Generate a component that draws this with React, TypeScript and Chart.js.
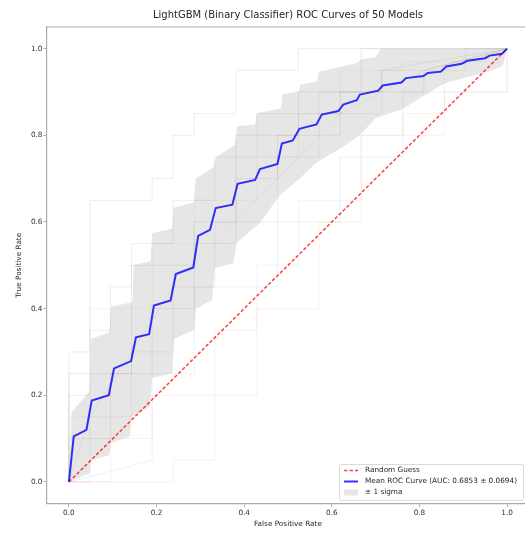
import React, { useEffect, useRef } from 'react';
import { Chart, registerables } from 'chart.js';

Chart.register(...registerables);

const titleText = 'LightGBM (Binary Classifier) ROC Curves of 50 Models';
const xAxisLabel = 'False Positive Rate';
const yAxisLabel = 'True Positive Rate';
const tickValues = [0, 0.2, 0.4, 0.6, 0.8, 1.0];
const legendLabels = ['Random Guess', 'Mean ROC Curve (AUC: 0.6853 ± 0.0694)', '± 1 sigma'];

const diagFpr = [0, 1];
const diagTpr = [0, 1];

const meanFpr = [0, 0.011, 0.040, 0.052, 0.091, 0.103, 0.142, 0.153, 0.183, 0.194, 0.232, 0.244, 0.284, 0.295, 0.322, 0.335, 0.373, 0.385, 0.425, 0.436, 0.476, 0.486, 0.511, 0.526, 0.565, 0.577, 0.615, 0.626, 0.657, 0.664, 0.706, 0.716, 0.759, 0.769, 0.809, 0.819, 0.849, 0.861, 0.896, 0.909, 0.950, 0.960, 0.988, 1.0];
const meanTpr = [0, 0.105, 0.12, 0.188, 0.20, 0.262, 0.279, 0.334, 0.341, 0.407, 0.419, 0.48, 0.495, 0.568, 0.582, 0.632, 0.640, 0.688, 0.697, 0.722, 0.734, 0.781, 0.788, 0.815, 0.825, 0.848, 0.856, 0.871, 0.881, 0.894, 0.903, 0.915, 0.922, 0.932, 0.937, 0.944, 0.947, 0.959, 0.965, 0.972, 0.978, 0.984, 0.988, 1.0];

const upperFpr = [0, 0.006, 0.047, 0.05, 0.092, 0.096, 0.145, 0.148, 0.187, 0.19, 0.236, 0.239, 0.285, 0.289, 0.33, 0.337, 0.379, 0.384, 0.425, 0.429, 0.484, 0.487, 0.525, 0.528, 0.567, 0.57, 0.657, 0.665, 0.70, 0.712, 1.0];
const upperTpr = [0, 0.16, 0.21, 0.33, 0.345, 0.405, 0.415, 0.50, 0.51, 0.574, 0.585, 0.632, 0.645, 0.70, 0.727, 0.751, 0.778, 0.821, 0.825, 0.851, 0.862, 0.894, 0.902, 0.917, 0.925, 0.947, 0.967, 0.975, 0.98, 1.0, 1.0];

const lowerFpr = [0, 0.047, 0.05, 0.092, 0.096, 0.139, 0.143, 0.185, 0.19, 0.236, 0.24, 0.286, 0.29, 0.327, 0.333, 0.375, 0.383, 0.436, 0.482, 0.523, 0.565, 0.62, 0.664, 0.70, 0.76, 0.808, 0.858, 0.954, 0.99, 1.0];
const lowerTpr = [0, 0.02, 0.05, 0.062, 0.09, 0.105, 0.15, 0.174, 0.24, 0.251, 0.33, 0.351, 0.40, 0.42, 0.494, 0.505, 0.552, 0.598, 0.663, 0.697, 0.737, 0.77, 0.80, 0.84, 0.86, 0.89, 0.92, 0.947, 0.96, 1.0];

// A sample of the faint individual model curves
const modelFpr: number[][] = [
  [0, 0, 0.048, 0.048, 0.19, 0.19, 0.238, 0.238, 0.286, 0.286, 0.381, 0.381, 0.524, 0.524, 1],
  [0, 0.238, 0.238, 0.333, 0.333, 0.429, 0.429, 0.571, 0.571, 0.667, 0.667, 0.762, 0.762, 0.857, 0.857, 1, 1],
  [0, 0, 0.048, 0.048, 0.095, 0.095, 0.143, 0.143, 0.238, 0.238, 0.333, 0.333, 0.429, 0.429, 0.571, 0.571, 0.714, 0.714, 1],
  [0, 0, 0.095, 0.095, 0.19, 0.19, 0.286, 0.286, 0.381, 0.381, 0.476, 0.476, 0.619, 0.619, 0.81, 0.81, 1],
  [0, 0.048, 0.048, 0.143, 0.143, 0.238, 0.238, 0.333, 0.333, 0.476, 0.476, 0.571, 0.571, 0.714, 0.714, 0.905, 0.905, 1],
  [0, 0, 0.143, 0.143, 0.286, 0.286, 0.381, 0.381, 0.524, 0.524, 0.667, 0.667, 1],
  [0, 0.095, 0.095, 0.19, 0.19, 0.333, 0.333, 0.429, 0.429, 0.524, 0.524, 0.667, 0.667, 0.857, 0.857, 1],
  [0, 0.048, 0.143, 0.238, 0.333, 0.429, 0.524, 0.619, 0.714, 0.81, 1],
  [0, 0, 0.048, 0.048, 0.19, 0.19, 0.286, 0.286, 0.429, 0.429, 0.524, 0.524, 0.619, 0.619, 0.762, 0.762, 0.952, 0.952, 1],
  [0, 0.19, 0.19, 0.286, 0.286, 0.476, 0.476, 0.619, 0.619, 0.762, 0.762, 1, 1],
];
const modelTpr: number[][] = [
  [0, 0.3, 0.3, 0.65, 0.65, 0.7, 0.7, 0.8, 0.8, 0.85, 0.85, 0.95, 0.95, 1, 1],
  [0, 0, 0.05, 0.05, 0.2, 0.2, 0.4, 0.4, 0.6, 0.6, 0.8, 0.8, 0.85, 0.85, 0.9, 0.9, 1],
  [0, 0.2, 0.2, 0.35, 0.35, 0.45, 0.45, 0.55, 0.55, 0.65, 0.65, 0.75, 0.75, 0.85, 0.85, 0.9, 0.9, 0.95, 1],
  [0, 0.1, 0.1, 0.25, 0.25, 0.4, 0.4, 0.55, 0.55, 0.7, 0.7, 0.8, 0.8, 0.9, 0.9, 0.95, 1],
  [0, 0, 0.15, 0.15, 0.3, 0.3, 0.45, 0.45, 0.6, 0.6, 0.75, 0.75, 0.85, 0.85, 0.95, 0.95, 1, 1],
  [0, 0.25, 0.25, 0.5, 0.5, 0.6, 0.6, 0.8, 0.8, 0.9, 0.9, 1, 1],
  [0, 0, 0.1, 0.1, 0.2, 0.2, 0.35, 0.35, 0.5, 0.5, 0.65, 0.65, 0.8, 0.8, 0.95, 1],
  [0, 0.15, 0.3, 0.45, 0.55, 0.65, 0.75, 0.85, 0.9, 0.95, 1],
  [0, 0.15, 0.15, 0.4, 0.4, 0.55, 0.55, 0.65, 0.65, 0.75, 0.75, 0.85, 0.85, 0.95, 0.95, 0.97, 0.97, 1, 1],
  [0, 0.05, 0.25, 0.25, 0.45, 0.45, 0.6, 0.6, 0.75, 0.75, 0.9, 0.9, 1],
];
const modelColors = ['#1f77b4', '#ff7f0e', '#2ca02c', '#d62728', '#9467bd', '#8c564b', '#e377c2', '#7f7f7f', '#bcbd22', '#17becf'];

const W = 545;
const H = 534;
const AREA = { left: 47, top: 27, right: 529, bottom: 503.6 };
const FONT = "'DejaVu Sans', sans-serif";

const RED = 'rgba(255,0,0,0.75)';
const BLUE = 'rgba(0,0,255,0.8)';
const BAND = 'rgba(128,128,128,0.2)';

function hexA(hex: string, a: number) {
  const n = parseInt(hex.slice(1), 16);
  return `rgba(${(n >> 16) & 255},${(n >> 8) & 255},${n & 255},${a})`;
}

const decorPlugin = {
  id: 'decor',
  afterDraw(chart: any) {
    const ctx = chart.ctx as CanvasRenderingContext2D;
    const ca = chart.chartArea;
    ctx.save();
    ctx.strokeStyle = '#aaaaaa';
    ctx.lineWidth = 1.2;
    ctx.beginPath();
    ctx.moveTo(ca.left, ca.top);
    ctx.lineTo(ca.right, ca.top);
    ctx.lineTo(ca.right, ca.bottom);
    ctx.stroke();

    ctx.fillStyle = '#262626';
    ctx.font = `10px ${FONT}`;
    ctx.textAlign = 'center';
    ctx.textBaseline = 'middle';
    ctx.fillText(titleText, (ca.left + ca.right) / 2, 15);

    ctx.font = `7.3px ${FONT}`;
    ctx.fillText(xAxisLabel, (ca.left + ca.right) / 2, 524);
    ctx.save();
    ctx.translate(19, (ca.top + ca.bottom) / 2);
    ctx.rotate(-Math.PI / 2);
    ctx.fillText(yAxisLabel, 0, 0);
    ctx.restore();

    const bx = 339.5, by = 464.5, bw = 184, bh = 36;
    ctx.beginPath();
    ctx.roundRect(bx, by, bw, bh, 2);
    ctx.fillStyle = 'rgba(255,255,255,0.85)';
    ctx.fill();
    ctx.strokeStyle = '#d0d0d0';
    ctx.lineWidth = 0.8;
    ctx.stroke();

    const hx0 = 344, hx1 = 358, tx = 365;
    const rows = [470.5, 481.5, 492.5];
    ctx.strokeStyle = RED;
    ctx.lineWidth = 1.5;
    ctx.setLineDash([3.5, 2]);
    ctx.beginPath();
    ctx.moveTo(hx0, rows[0]);
    ctx.lineTo(hx1, rows[0]);
    ctx.stroke();
    ctx.setLineDash([]);
    ctx.strokeStyle = BLUE;
    ctx.lineWidth = 2;
    ctx.beginPath();
    ctx.moveTo(hx0, rows[1]);
    ctx.lineTo(hx1, rows[1]);
    ctx.stroke();
    ctx.fillStyle = BAND;
    ctx.fillRect(hx0, rows[2] - 3, hx1 - hx0, 6);

    ctx.fillStyle = '#262626';
    ctx.font = `7.3px ${FONT}`;
    ctx.textAlign = 'left';
    ctx.textBaseline = 'middle';
    legendLabels.forEach((t, i) => ctx.fillText(t, tx, rows[i]));
    ctx.restore();
  },
};

export default function App() {
  const ref = useRef<HTMLCanvasElement>(null);
  useEffect(() => {
    if (!ref.current) return;
    const pts = (xs: number[], ys: number[]) => xs.map((x, i) => ({ x, y: ys[i] }));
    const faint = modelFpr.map((xs, i) => ({
      label: 'model ' + (i + 1),
      data: pts(xs, modelTpr[i]),
      borderColor: hexA(modelColors[i % modelColors.length], 0.15),
      borderWidth: 0.8,
      pointRadius: 0,
      fill: false,
      tension: 0,
    }));
    const axisCommon = (isX: boolean) => ({
      type: 'linear' as const,
      min: -0.05,
      max: 1.05,
      afterBuildTicks: (s: any) => {
        s.ticks = tickValues.map((v) => ({ value: v }));
      },
      afterFit: (s: any) => {
        if (isX) s.height = H - AREA.bottom;
        else s.width = AREA.left;
      },
      ticks: {
        autoSkip: false,
        maxRotation: 0,
        padding: isX ? 1.5 : 1,
        color: '#333333',
        font: { size: 7.3, family: FONT },
        callback: (v: any) => Number(v).toFixed(1),
      },
      grid: { drawOnChartArea: false, drawTicks: true, tickLength: 3.5, color: '#999999', lineWidth: 0.8 },
      border: { display: true, color: '#aaaaaa', width: 1.2 },
    });
    const chart = new Chart(ref.current, {
      type: 'line',
      data: {
        datasets: [
          { label: legendLabels[1], data: pts(meanFpr, meanTpr), borderColor: BLUE, borderWidth: 2, pointRadius: 0, fill: false, tension: 0 },
          { label: legendLabels[0], data: pts(diagFpr, diagTpr), borderColor: RED, borderWidth: 1.5, borderDash: [3.5, 2], pointRadius: 0, fill: false },
          { label: legendLabels[2], data: pts(upperFpr, upperTpr), borderWidth: 0, borderColor: 'rgba(0,0,0,0)', backgroundColor: BAND, pointRadius: 0, fill: '+1', tension: 0 },
          { label: 'lower', data: pts(lowerFpr, lowerTpr), borderWidth: 0, borderColor: 'rgba(0,0,0,0)', pointRadius: 0, fill: false, tension: 0 },
          ...faint,
        ] as any,
      },
      options: {
        responsive: false,
        animation: false,
        devicePixelRatio: 1,
        layout: { padding: { left: 0, right: W - AREA.right, top: AREA.top, bottom: 0 } },
        plugins: { legend: { display: false }, tooltip: { enabled: false }, title: { display: false } },
        scales: { x: axisCommon(true) as any, y: axisCommon(false) as any },
      },
      plugins: [decorPlugin],
    });
    return () => chart.destroy();
  }, []);
  return (
    <div style={{ position: 'fixed', left: 0, top: 0, width: 525, height: 534, overflow: 'hidden', background: '#fff' }}>
      <canvas ref={ref} width={W} height={H} style={{ width: W, height: H, display: 'block' }} />
    </div>
  );
}
